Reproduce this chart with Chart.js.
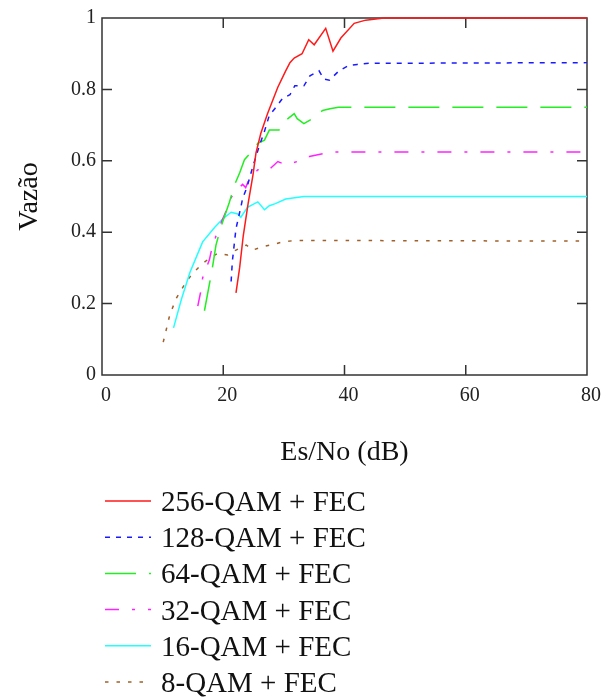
<!DOCTYPE html>
<html>
<head>
<meta charset="utf-8">
<script src="https://cdn.jsdelivr.net/npm/chart.js@4"></script>
<style>
html,body{margin:0;padding:0;background:#fff;}
</style>
</head>
<body>
<canvas id="myChart" width="606" height="700"></canvas>
<script>
// data (Es/No in dB -> vazao)
const labels = ['256-QAM + FEC','128-QAM + FEC','64-QAM + FEC','32-QAM + FEC','16-QAM + FEC','8-QAM + FEC'];

const x256 = [22.1,22.7,23.3,24.1,24.9,25.4,26.2,27.3,29.0,30.3,31.0,31.7,33.0,34.1,35.0,36.9,38.1,39.4,41.6,43.5,46.5,80];
const y256 = [0.23,0.30,0.39,0.48,0.56,0.622,0.677,0.732,0.806,0.852,0.875,0.888,0.9,0.939,0.925,0.971,0.907,0.944,0.985,0.994,1,1];

const x128 = [21.3,21.5,22.1,22.9,23.2,23.9,24.9,25.4,26.0,26.7,27.1,27.6,28.5,29.8,31.0,31.8,33.3,34.3,35.8,36.6,37.5,39.1,40.6,42.1,44.0,80];
const y128 = [0.262,0.318,0.41,0.47,0.495,0.525,0.585,0.612,0.645,0.677,0.70,0.727,0.746,0.775,0.785,0.81,0.81,0.838,0.852,0.829,0.826,0.852,0.866,0.87,0.873,0.875];

const x64 = [16.9,17.7,18.2,18.8,19.7,21.0,21.8,22.7,23.5,25.2,25.7,26.8,27.6,29.2,30.3,31.7,32.2,33.3,34.7,36.4,37.6,39,80];
const y64 = [0.18,0.253,0.299,0.364,0.419,0.483,0.53,0.566,0.603,0.635,0.649,0.658,0.686,0.686,0.713,0.732,0.718,0.704,0.718,0.741,0.746,0.75,0.75];

const x32 = [15.8,16.3,16.6,17.2,17.7,18.0,18.8,19.9,20.5,21.3,22.3,23.2,23.7,24.3,25.7,27.3,29.0,30.3,32.2,34.2,36.5,38,80];
const y32 = [0.193,0.235,0.272,0.30,0.322,0.345,0.39,0.437,0.46,0.497,0.52,0.534,0.525,0.55,0.575,0.571,0.598,0.589,0.598,0.612,0.62,0.625,0.625];

const x16 = [11.8,13.1,14.5,16.6,18.6,19.9,21.3,22.4,22.9,24.0,25.7,26.8,27.6,28.6,30.3,33.3,80];
const y16 = [0.132,0.212,0.287,0.373,0.414,0.437,0.456,0.451,0.442,0.47,0.485,0.463,0.474,0.48,0.493,0.5,0.5];

const x8 = [10.1,10.5,11.2,12.3,13.9,15.0,16.4,17.7,19.1,20.7,22.1,23.8,24.9,26.4,28.1,29.8,32.0,80];
const y8 = [0.092,0.12,0.17,0.216,0.262,0.285,0.309,0.327,0.341,0.336,0.35,0.364,0.35,0.359,0.365,0.373,0.377,0.375];

const xTicks = [0,20,40,60,80];
const yTicks = [0,0.2,0.4,0.6,0.8,1];

const colors = ['#ff1a1a','#1a1aff','#22ee22','#ff22ff','#22ffff','#a0602a'];
const dashes = [[],[5,6],[31,13],[14,13,3,13],[],[3.5,8]];

const serif = "'Liberation Serif', 'Times New Roman', serif";

const toPoints=(xs,ys)=>xs.map((x,i)=>({x:x,y:ys[i]}));
const allX=[x256,x128,x64,x32,x16,x8];
const allY=[y256,y128,y64,y32,y16,y8];

const datasets = labels.map((name,i)=>({
    label:name,
    data:toPoints(allX[i],allY[i]),
    borderColor:colors[i],
    borderDash:dashes[i],
    borderWidth:1.5,
    pointRadius:0,
    showLine:true,
    fill:false,
    tension:0,
    clip:false
}));

// box around plot with inward tick marks
const framePlugin={
    id:'frame',
    beforeDatasetsDraw(chart){
        const {ctx,chartArea:a,scales}=chart;
        ctx.save();
        ctx.strokeStyle='#333';
        ctx.lineWidth=1.5;
        ctx.strokeRect(a.left,a.top,a.right-a.left,a.bottom-a.top);
        const len=10;
        ctx.beginPath();
        xTicks.slice(1,-1).forEach(v=>{
            const px=scales.x.getPixelForValue(v);
            ctx.moveTo(px,a.bottom);ctx.lineTo(px,a.bottom-len);
            ctx.moveTo(px,a.top);ctx.lineTo(px,a.top+len);
        });
        yTicks.slice(1,-1).forEach(v=>{
            const py=scales.y.getPixelForValue(v);
            ctx.moveTo(a.left,py);ctx.lineTo(a.left+len,py);
            ctx.moveTo(a.right,py);ctx.lineTo(a.right-len,py);
        });
        ctx.stroke();
        ctx.restore();
    }
};

// legend stacked under the chart, one row per series
const legendPlugin={
    id:'stackLegend',
    afterDraw(chart){
        const ctx=chart.ctx;
        ctx.save();
        chart.data.datasets.forEach((ds,i)=>{
            const yLine=501+36.2*i;
            ctx.beginPath();
            ctx.strokeStyle=ds.borderColor;
            ctx.lineWidth=1.5;
            ctx.setLineDash(ds.borderDash);
            ctx.moveTo(105,yLine);
            ctx.lineTo(151,yLine);
            ctx.stroke();
            ctx.setLineDash([]);
            ctx.fillStyle='#111';
            ctx.font="29px "+serif;
            ctx.textBaseline='alphabetic';
            ctx.fillText(ds.label,161,511+36.2*i);
        });
        ctx.restore();
    }
};

const ctx=document.getElementById('myChart').getContext('2d');
const myChart=new Chart(ctx,{
    type:'scatter',
    data:{datasets:datasets},
    options:{
        responsive:false,
        animation:false,
        devicePixelRatio:1,
        layout:{padding:{left:0,right:17,top:13,bottom:231}},
        plugins:{legend:{display:false},tooltip:{enabled:false}},
        scales:{
            x:{
                type:'linear',min:0,max:80,
                afterBuildTicks:s=>{s.ticks=xTicks.map(v=>({value:v}));},
                afterFit:s=>{s.height=94;},
                grid:{display:false,drawTicks:false},
                border:{display:false},
                ticks:{color:'#222',padding:9,labelOffset:4,maxRotation:0,font:{family:serif,size:20}},
                title:{display:true,text:'Es/No (dB)',color:'#111',padding:0,font:{family:serif,size:28}}
            },
            y:{
                type:'linear',min:0,max:1,
                afterBuildTicks:s=>{s.ticks=yTicks.map(v=>({value:v}));},
                afterFit:s=>{s.width=102;},
                grid:{display:false,drawTicks:false},
                border:{display:false},
                ticks:{color:'#222',padding:6,font:{family:serif,size:20},callback:v=>String(+v.toFixed(1))},
                title:{display:true,text:'Vazão',color:'#111',padding:{top:13,bottom:0},font:{family:serif,size:28}}
            }
        }
    },
    plugins:[framePlugin,legendPlugin]
});
</script>
</body>
</html>
